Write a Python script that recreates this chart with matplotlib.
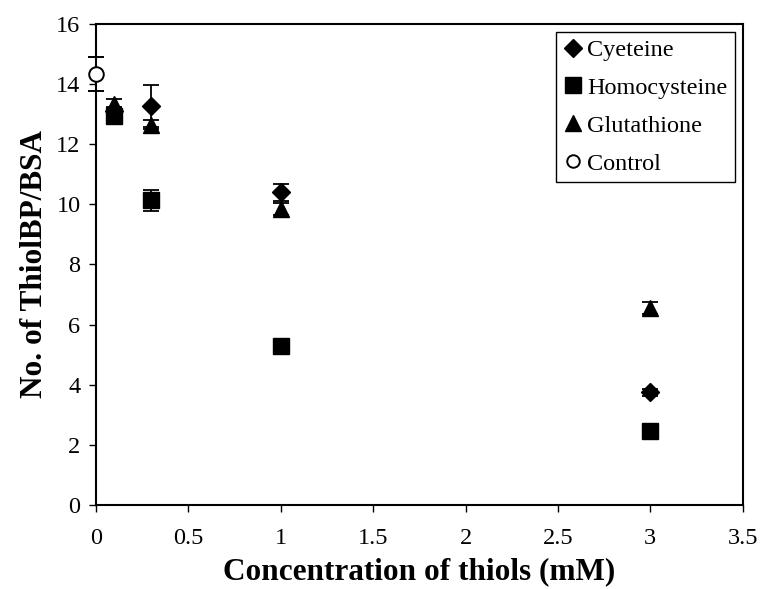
import numpy as np
import matplotlib.pyplot as plt
from matplotlib.lines import Line2D

plt.rcParams['font.family'] = ['Liberation Serif', 'DejaVu Serif']

# concentrations (mM)
conc = [0.1, 0.3, 1, 3]

cys = [13.1, 13.28, 10.4, 3.75]
cys_err = [0.15, 0.7, 0.28, 0.12]

hcy = [12.95, 10.13, 5.3, 2.45]
hcy_err = [0.15, 0.35, 0.12, 0.1]

gsh = [13.35, 12.65, 9.85, 6.55]
gsh_err = [0.15, 0.15, 0.2, 0.2]

ctrl_x = [0]
ctrl = [14.35]
ctrl_err = [0.57]

labels = ['Cyeteine', 'Homocysteine', 'Glutathione', 'Control']

fig = plt.figure(figsize=(7.61, 5.89), dpi=100)
ax = fig.add_axes([0.126, 0.143, 0.85, 0.816])

eb = dict(ecolor='black', elinewidth=1.3, capsize=6, capthick=1.3, linestyle='none')
ax.errorbar(conc, cys, yerr=cys_err, marker='D', ms=9.5, mfc='black', mec='black', **eb)
ax.errorbar(conc, hcy, yerr=hcy_err, marker='s', ms=11, mfc='black', mec='black', **eb)
ax.errorbar(conc, gsh, yerr=gsh_err, marker='^', ms=12, mfc='black', mec='black', **eb)
ax.errorbar(ctrl_x, ctrl, yerr=ctrl_err, marker='o', ms=10.5, mfc='white', mec='black',
            mew=1.4, clip_on=False, zorder=5, **eb)

ax.set_xlim(0, 3.5)
ax.set_ylim(0, 16)
ax.set_xticks(np.arange(0, 3.51, 0.5))
ax.set_xticklabels(['0', '0.5', '1', '1.5', '2', '2.5', '3', '3.5'])
ax.set_yticks(np.arange(0, 17, 2))

ax.tick_params(direction='out', length=5, width=1, labelsize=17.5, pad=6)
ax.tick_params(axis='x', pad=12)
for s in ax.spines.values():
    s.set_linewidth(1.5)

ax.set_xlabel('Concentration of thiols (mM)', fontsize=22.5, fontweight='bold', labelpad=6)
ax.set_ylabel('No. of ThiolBP/BSA', fontsize=22.5, fontweight='bold', labelpad=5)

handles = [
    Line2D([], [], ls='none', marker='D', ms=9.5, color='black'),
    Line2D([], [], ls='none', marker='s', ms=11, color='black'),
    Line2D([], [], ls='none', marker='^', ms=12, color='black'),
    Line2D([], [], ls='none', marker='o', ms=9, mfc='white', mec='black', mew=1.4),
]
leg = ax.legend(handles, labels, loc='upper right', bbox_to_anchor=(0.988, 0.984),
                fontsize=17.5, frameon=True, fancybox=False, edgecolor='black',
                framealpha=1, handlelength=0.8, handletextpad=0.2,
                labelspacing=0.65, borderpad=0.3, borderaxespad=0)
leg.get_frame().set_linewidth(1.0)

fig.savefig('out.png', dpi=100)
